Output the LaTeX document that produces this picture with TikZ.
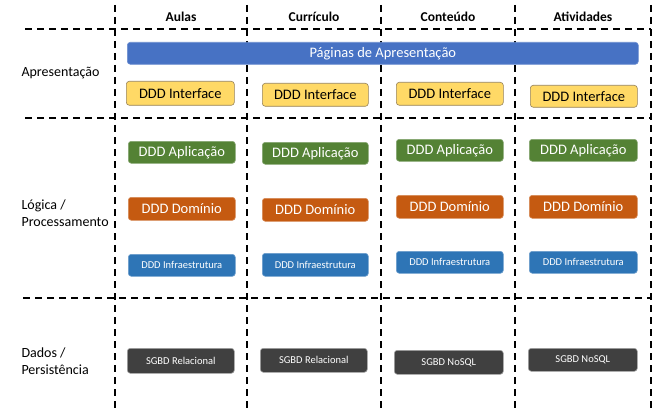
\documentclass[tikz,border=0pt]{standalone}
\usepackage{fontspec}
\setmainfont{Carlito}
\begin{document}
\definecolor{barblue}{RGB}{71,114,196}
\definecolor{ifill}{RGB}{255,217,102}
\definecolor{iline}{RGB}{150,130,90}
\definecolor{appgreen}{RGB}{84,130,53}
\definecolor{domorange}{RGB}{197,90,17}
\definecolor{infblue}{RGB}{46,117,182}
\definecolor{dbgray}{RGB}{64,64,64}
\begin{tikzpicture}[x=1pt,y=-1pt,
  sep/.style={line width=1.6pt,dash pattern=on 7pt off 5pt},
  box/.style={rounded corners=3pt,draw,line width=0.6pt,inner sep=0pt,anchor=north west},
  iface/.style={box,fill=ifill,draw=iline,text=black,font=\fontsize{14.5}{16}\selectfont},
  app/.style={box,fill=appgreen,draw=appgreen!70!white,text=white,font=\fontsize{14.5}{16}\selectfont},
  dom/.style={box,fill=domorange,draw=domorange!70!white,text=white,font=\fontsize{14.5}{16}\selectfont},
  infra/.style={box,fill=infblue,draw=infblue!70!white,text=white,font=\fontsize{10.5}{12}\selectfont},
  db/.style={box,fill=dbgray,draw=gray!70,text=white,font=\fontsize{10.5}{12}\selectfont},
  head/.style={font=\bfseries\fontsize{13.5}{15}\selectfont},
  rowlbl/.style={anchor=west,align=left,font=\fontsize{14}{17}\selectfont}]
\useasboundingbox (0,0) rectangle (662,420);
% grid of dashed separators
\coordinate (t1) at (115,5); \coordinate (b1) at (115,410);
\coordinate (t2) at (247,5); \coordinate (b2) at (247,410);
\coordinate (t3) at (381,5); \coordinate (b3) at (381,410);
\coordinate (t4) at (515,5); \coordinate (b4) at (515,410);
\coordinate (t5) at (651,5); \coordinate (b5) at (651,410);
\foreach \i in {1,...,5} \draw[sep] (t\i) -- (b\i);
\coordinate (l1) at (25,29);  \coordinate (r1) at (651,29);
\coordinate (l2) at (25,118); \coordinate (r2) at (651,118);
\coordinate (l3) at (23,298); \coordinate (r3) at (651,298);
\foreach \i in {1,2,3} \draw[sep] (l\i) -- (r\i);
% column headings
\node[head] (h1) at (181,17) {Aulas};
\node[head] (h2) at (314,17) {Currículo};
\node[head] (h3) at (448,17) {Conteúdo};
\node[head] (h4) at (583,17) {Atividades};
% row labels
\node[rowlbl] (r1l) at (18,73) {Apresentação};
\node[rowlbl] (r2l) at (18,213) {Lógica /\\Processamento};
\node[rowlbl] (r3l) at (18,361) {Dados /\\Persistência};
% presentation bar
\node[box,fill=barblue,draw=barblue!80!white,text=white,minimum width=511pt,minimum height=22pt,font=\fontsize{14.5}{16}\selectfont] (bar) at (127,42) {Páginas de Apresentação};
% interface layer
\node[iface,minimum width=108pt,minimum height=24pt] (i1) at (126,81) {DDD Interface};
\node[iface,minimum width=106pt,minimum height=23pt] (i2) at (262,83) {DDD Interface};
\node[iface,minimum width=107pt,minimum height=23pt] (i3) at (396,82) {DDD Interface};
\node[iface,minimum width=107pt,minimum height=22pt] (i4) at (530,85) {DDD Interface};
% application layer
\node[app,minimum width=107pt,minimum height=22pt] (a1) at (128,141) {DDD Aplicação};
\node[app,minimum width=106pt,minimum height=22pt] (a2) at (262,142) {DDD Aplicação};
\node[app,minimum width=107pt,minimum height=22pt] (a3) at (396,139) {DDD Aplicação};
\node[app,minimum width=108pt,minimum height=22pt] (a4) at (529,139) {DDD Aplicação};
% domain layer
\node[dom,minimum width=107pt,minimum height=23pt] (d1) at (128,197) {DDD Domínio};
\node[dom,minimum width=106pt,minimum height=23pt] (d2) at (262,198) {DDD Domínio};
\node[dom,minimum width=107pt,minimum height=23pt] (d3) at (396,195) {DDD Domínio};
\node[dom,minimum width=108pt,minimum height=23pt] (d4) at (529,195) {DDD Domínio};
% infrastructure layer
\node[infra,minimum width=107pt,minimum height=22pt] (f1) at (128,254) {DDD Infraestrutura};
\node[infra,minimum width=106pt,minimum height=23pt] (f2) at (262,253) {DDD Infraestrutura};
\node[infra,minimum width=107pt,minimum height=22pt] (f3) at (396,251) {DDD Infraestrutura};
\node[infra,minimum width=108pt,minimum height=22pt] (f4) at (529,251) {DDD Infraestrutura};
% storage layer
\node[db,minimum width=107pt,minimum height=25pt] (s1) at (127,348) {SGBD Relacional};
\node[db,minimum width=107pt,minimum height=24pt] (s2) at (260,348) {SGBD Relacional};
\node[db,minimum width=109pt,minimum height=24pt] (s3) at (394,350) {SGBD NoSQL};
\node[db,minimum width=109pt,minimum height=23pt] (s4) at (528,348) {SGBD NoSQL};
\end{tikzpicture}
\end{document}
